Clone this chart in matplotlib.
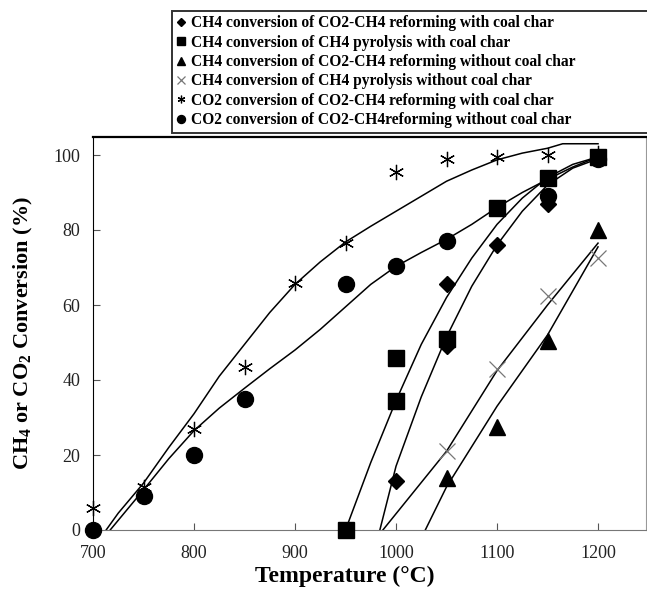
import numpy as np
import matplotlib
matplotlib.use("Agg")
from matplotlib import pyplot as plt

# measured points
dia_x = [1000, 1050, 1050, 1100, 1150, 1200]
dia_y = [13, 65.5, 49, 76, 87, 99]
sq_x = [950, 1000, 1000, 1050, 1100, 1150, 1200]
sq_y = [0, 46, 34.5, 51, 86, 94, 99.5]
tri_x = [1050, 1100, 1150, 1200]
tri_y = [14, 27.5, 50.5, 80]
x_x = [1050, 1100, 1150, 1200]
x_y = [21, 43, 62.5, 72.5]
ast_x = [700, 750, 800, 850, 900, 950, 1000, 1050, 1100, 1150, 1200]
ast_y = [6, 11.5, 27, 43.5, 66, 76.5, 95.5, 99, 99.5, 100, 100.5]
cir_x = [700, 750, 800, 850, 950, 1000, 1050, 1150, 1200]
cir_y = [0, 9, 20, 35, 65.5, 70.5, 77, 89, 99]

# trend lines
ast_fit_x = [713, 725, 750, 775, 800, 825, 850, 875, 900, 925, 950, 975, 1000,
             1025, 1050, 1075, 1100, 1125, 1150, 1165, 1200]
ast_fit_y = [0, 4.5, 12.5, 22, 31, 41, 49.5, 58, 65.5, 71.5, 76.8, 81, 85,
             89, 93, 96, 98.7, 100.5, 101.8, 103, 103]
cir_fit_x = [717, 750, 775, 800, 825, 850, 875, 900, 925, 950, 975, 1000,
             1025, 1050, 1075, 1100, 1125, 1150, 1175, 1200]
cir_fit_y = [0, 10.7, 19, 26.5, 32.5, 37.8, 43, 48, 53.5, 59.5, 65.5, 70.3,
             74, 77.5, 81.5, 86, 90, 93.5, 96.8, 99.5]
sq_fit_x = [950, 975, 1000, 1025, 1050, 1075, 1100, 1125, 1150, 1175, 1200]
sq_fit_y = [0, 18, 34.5, 49.5, 62, 72.5, 81.5, 88.5, 94, 97.5, 99.5]
dia_fit_x = [984, 1000, 1025, 1050, 1075, 1100, 1125, 1150, 1175, 1200]
dia_fit_y = [0, 17, 35.5, 51.5, 65, 76, 85, 92, 96.5, 99]
x_fit_x = [987, 1050, 1100, 1150, 1200]
x_fit_y = [0, 21, 42.5, 60, 76.5]
tri_fit_x = [1029, 1050, 1100, 1150, 1200]
tri_fit_y = [0, 11.5, 33, 52, 75.5]

labels = [
    "CH4 conversion of CO2-CH4 reforming with coal char",
    "CH4 conversion of CH4 pyrolysis with coal char",
    "CH4 conversion of CO2-CH4 reforming without coal char",
    "CH4 conversion of CH4 pyrolysis without coal char",
    "CO2 conversion of CO2-CH4 reforming with coal char",
    "CO2 conversion of CO2-CH4reforming without coal char",
]

serif = "Liberation Serif"
plt.rcParams["mathtext.fontset"] = "custom"
plt.rcParams["mathtext.rm"] = serif
plt.rcParams["mathtext.it"] = serif + ":italic"
plt.rcParams["mathtext.bf"] = serif + ":bold"
plt.rcParams["mathtext.default"] = "bf"

fig = plt.figure(figsize=(6.47, 5.99), dpi=100)
ax = fig.add_axes([93/647, 69/599, 553/647, 393/599])

for fx, fy in [(ast_fit_x, ast_fit_y), (cir_fit_x, cir_fit_y), (sq_fit_x, sq_fit_y),
               (dia_fit_x, dia_fit_y), (x_fit_x, x_fit_y), (tri_fit_x, tri_fit_y)]:
    ax.plot(fx, fy, color="black", lw=1.1, zorder=2)

h = []
h += ax.plot(dia_x, dia_y, "D", color="black", ms=8.5, ls="none", clip_on=False, zorder=3)
h += ax.plot(sq_x, sq_y, "s", color="black", ms=11.5, ls="none", clip_on=False, zorder=3)
h += ax.plot(tri_x, tri_y, "^", color="black", ms=11.5, ls="none", clip_on=False, zorder=3)
h += ax.plot(x_x, x_y, "x", color="#777777", ms=11, mew=0.9, ls="none", clip_on=False, zorder=3)
h += ax.plot(ast_x, ast_y, marker=(6, 2, 0), color="black", ms=11, mew=0.9, ls="none",
             clip_on=False, zorder=3)
h += ax.plot(cir_x, cir_y, "o", color="black", ms=11.5, ls="none", clip_on=False, zorder=3)

ax.set_xlim(700, 1247.5)
ax.set_ylim(0, 104.8)
ax.set_xticks([700, 800, 900, 1000, 1100, 1200])
ax.set_yticks([0, 20, 40, 60, 80, 100])
ax.tick_params(direction="in", length=5, color="#555555", labelsize=13, labelcolor="#222222")
ax.tick_params(axis="x", pad=11)
ax.tick_params(axis="y", pad=9)
for lab in ax.get_xticklabels() + ax.get_yticklabels():
    lab.set_family(serif)
ax.spines["left"].set_color("black")
ax.spines["top"].set_color("black")
ax.spines["top"].set_linewidth(1.6)
ax.spines["bottom"].set_color("#777777")
ax.spines["right"].set_color("#999999")

ax.set_xlabel("Temperature (°C)", fontsize=17, fontweight="bold", family=serif)
ax.xaxis.set_label_coords(0.455, -0.092)
ax.set_ylabel("CH$_4$ or CO$_2$ Conversion (%)", fontsize=16, fontweight="bold", family=serif)
ax.yaxis.set_label_coords(-0.105, 0.5)

leg = fig.legend(h, labels, loc="lower left",
                 bbox_to_anchor=(172/647, 466/599, 480/647, 116/599),
                 mode="expand", borderaxespad=0, fancybox=False, frameon=True,
                 edgecolor="black", markerscale=0.5, handlelength=0.6, handletextpad=0.3,
                 labelspacing=0.22, borderpad=0.3,
                 prop={"family": serif, "weight": "bold", "size": 11.2})
leg.get_frame().set_linewidth(1.4)

fig.savefig("out.png", dpi=100)
